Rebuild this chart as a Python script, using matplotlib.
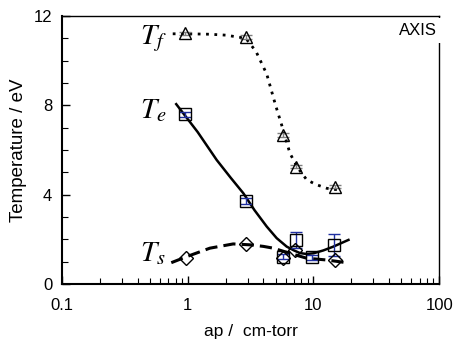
import matplotlib.pyplot as plt
from matplotlib.ticker import MultipleLocator, LogLocator, NullFormatter, FixedLocator, FixedFormatter

plt.rcParams['font.family'] = ['Liberation Sans', 'DejaVu Sans']
plt.rcParams['mathtext.fontset'] = 'stix'

# measured points
x_f = [0.95, 2.9, 5.7, 7.3, 14.9]
y_f = [11.22, 11.05, 6.67, 5.25, 4.36]
x_e = [0.95, 2.9, 5.7, 7.3, 9.8, 14.7]
y_e = [7.6, 3.72, 1.22, 1.97, 1.19, 1.75]
err_e = [0.12, 0.12, 0.1, 0.35, 0.1, 0.5]
x_s = [0.97, 2.9, 5.7, 7.1, 14.9]
y_s = [1.18, 1.78, 1.18, 1.52, 1.07]

# fitted curves
cx_f = [0.76, 1.0, 1.5, 2.0, 2.9, 3.5, 4.25, 5.0, 5.6, 6.5, 7.5, 8.85, 10.5, 12.8, 16.3]
cy_f = [11.2, 11.2, 11.18, 11.14, 11.0, 10.4, 9.4, 8.0, 7.1, 5.85, 5.2, 4.66, 4.45, 4.28, 4.2]
cx_e = [0.81, 1.2, 1.7, 2.2, 2.77, 3.4, 4.25, 5.1, 6.13, 7.0, 7.82, 8.8, 10.0, 12.0, 14.4, 19.0]
cy_e = [8.05, 6.8, 5.55, 4.75, 4.06, 3.3, 2.57, 2.05, 1.67, 1.5, 1.38, 1.34, 1.37, 1.5, 1.67, 1.97]
cx_s = [0.74, 0.98, 1.5, 2.3, 3.13, 4.0, 4.8, 6.5, 8.85, 12.8, 18.4]
cy_s = [0.95, 1.22, 1.6, 1.79, 1.75, 1.68, 1.6, 1.37, 1.15, 1.07, 0.95]

fig = plt.figure(figsize=(4.56, 3.54), dpi=100)
ax = fig.add_axes([0.136, 0.198, 0.827, 0.757])

ax.plot(cx_f, cy_f, color='black', linestyle=(0, (1, 2)), linewidth=2)
ax.plot(cx_e, cy_e, color='black', linestyle='-', linewidth=1.8)
ax.plot(cx_s, cy_s, color='black', linestyle=(0, (4, 2)), linewidth=2.2)

ax.errorbar(x_f, y_f, yerr=0.08, fmt='none', ecolor='gray', capsize=4, elinewidth=1)
ax.plot(x_f, y_f, '^', mfc='none', mec='black', ms=8, mew=1)
ax.errorbar(x_e, y_e, yerr=err_e, fmt='none', ecolor='#1f2fa0', capsize=4, elinewidth=1, capthick=1)
ax.plot(x_e, y_e, 's', mfc='none', mec='black', ms=8, mew=1)
ax.plot(x_s, y_s, 'D', mfc='none', mec='black', ms=7, mew=1)

ax.text(0.42, 11.0, '$T_f$', fontsize=21, va='center', ha='left')
ax.text(0.42, 7.8, '$T_e$', fontsize=21, va='center', ha='left')
ax.text(0.42, 1.4, '$T_s$', fontsize=21, va='center', ha='left')
ax.text(0.995, 0.945, 'AXIS', transform=ax.transAxes, fontsize=12, ha='right', va='center',
        bbox=dict(facecolor='white', edgecolor='none', pad=3.5), zorder=5)

ax.set_xscale('log')
ax.set_xlim(0.1, 100)
ax.set_ylim(0, 12)
ax.xaxis.set_major_locator(FixedLocator([0.1, 1, 10, 100]))
ax.xaxis.set_major_formatter(FixedFormatter(['0.1', '1', '10', '100']))
ax.xaxis.set_minor_locator(LogLocator(base=10, subs=range(2, 10)))
ax.xaxis.set_minor_formatter(NullFormatter())
ax.yaxis.set_major_locator(MultipleLocator(4))
ax.yaxis.set_minor_locator(MultipleLocator(1))

ax.tick_params(which='both', direction='in', labelsize=12)
ax.tick_params(axis='x', pad=10)
ax.tick_params(axis='y', pad=7)
ax.tick_params(which='major', length=6, width=1)
ax.tick_params(which='minor', length=4, width=0.8)
for s in ['left', 'bottom']:
    ax.spines[s].set_linewidth(1.5)
for s in ['top', 'right']:
    ax.spines[s].set_linewidth(1)

ax.set_xlabel('ap /  cm-torr', fontsize=12.5, labelpad=8)
ax.set_ylabel('Temperature / eV', fontsize=13.5, labelpad=5)

fig.savefig('out.png', dpi=100)
